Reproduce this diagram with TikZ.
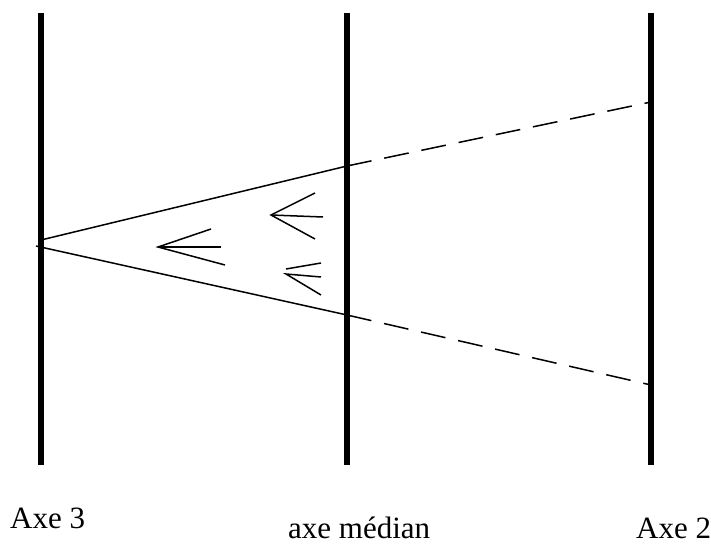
\documentclass[tikz,border=0pt]{standalone}
\usepackage{fontspec}
\setmainfont{Liberation Serif}
\begin{document}
\begin{tikzpicture}[x=1pt,y=-1pt,
  axis/.style={line width=5.5pt},
  thin/.style={line width=1.5pt},
  dashline/.style={line width=1.5pt,dash pattern=on 25pt off 13pt},
  lbl/.style={font=\fontsize{31}{31}\selectfont,anchor=base west,inner sep=0pt}]
\useasboundingbox (0,0) rectangle (711,545);
% axes
\coordinate (a3t) at (41,13); \coordinate (a3b) at (41,465);
\coordinate (amt) at (347,13); \coordinate (amb) at (347,465);
\coordinate (a2t) at (651,13); \coordinate (a2b) at (651,465);
\draw[axis] (a3t) -- (a3b);
\draw[axis] (amt) -- (amb);
\draw[axis] (a2t) -- (a2b);
% triangle
\coordinate (p1) at (41,240); \coordinate (p2) at (36,246);
\coordinate (m1) at (347,166); \coordinate (m2) at (347,315);
\coordinate (r1) at (651,102); \coordinate (r2) at (651,385);
\draw[thin] (p1) -- (m1);
\draw[thin] (p2) -- (m2);
\draw[dashline] (m1) -- (r1);
\draw[dashline] (m2) -- (r2);
% arrow 1
\coordinate (t1) at (158,247);
\coordinate (t1a) at (211,229); \coordinate (t1b) at (221,247); \coordinate (t1c) at (225,265);
\draw[thin] (t1a) -- (t1) -- (t1c); \draw[thin] (t1) -- (t1b);
% arrow 2
\coordinate (t2) at (271,215);
\coordinate (t2a) at (315,193); \coordinate (t2b) at (323,217); \coordinate (t2c) at (315,239);
\draw[thin] (t2a) -- (t2) -- (t2c); \draw[thin] (t2) -- (t2b);
% arrow 3
\coordinate (t3) at (286,269); \coordinate (t3a) at (321,263);
\coordinate (t4) at (286,274); \coordinate (t4b) at (321,277); \coordinate (t4c) at (321,295);
\draw[thin] (t3) -- (t3a);
\draw[thin] (t4b) -- (t4) -- (t4c);
% labels
\node[lbl] (l3) at (10,528) {Axe 3};
\node[lbl] (lm) at (288,538) {axe médian};
\node[lbl] (l2) at (636,538) {Axe 2};
\end{tikzpicture}
\end{document}
